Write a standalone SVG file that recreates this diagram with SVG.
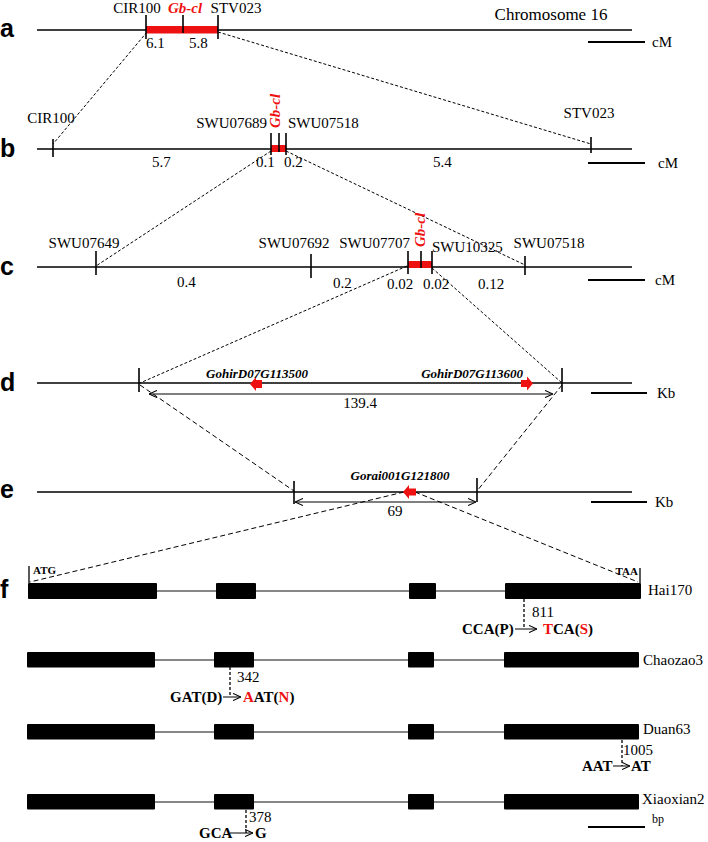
<svg xmlns="http://www.w3.org/2000/svg" width="708" height="842" viewBox="0 0 708 842">
<defs>
<style>
.t{font-family:"Liberation Serif","Times New Roman",serif;font-size:15px;fill:#000}
.big{font-size:17px}
.gb{font-family:"Liberation Serif","Times New Roman",serif;font-size:15px;font-weight:bold;font-style:italic;fill:#ee1111}
.gn{font-family:"Liberation Serif","Times New Roman",serif;font-size:13px;font-weight:bold;font-style:italic;fill:#000}
.pl{font-family:"Liberation Sans",Arial,sans-serif;font-size:25px;font-weight:bold;fill:#000}
.mut{font-family:"Liberation Serif","Times New Roman",serif;font-size:15px;font-weight:bold;fill:#000}
.cod{font-family:"Liberation Serif","Times New Roman",serif;font-size:11px;font-weight:bold;fill:#000}
.sm{font-size:12px}
.r{fill:#ee1111}
.chr{stroke:#000;stroke-width:1.6;fill:none}
.tick{stroke:#000;stroke-width:1.6}
.dash{stroke:#000;stroke-width:1;stroke-dasharray:3 2;fill:none}
.dash2{stroke:#000;stroke-width:1;stroke-dasharray:5 3;fill:none}
.vd{stroke:#000;stroke-width:1.3;stroke-dasharray:3 2}
.scale{stroke:#000;stroke-width:2.2}
.exon{fill:#000}
.intron{stroke:#111;stroke-width:1.2}
.arr{stroke:#000;stroke-width:1;fill:none;marker-end:url(#ah)}
.darr{stroke:#000;stroke-width:1;fill:none;marker-end:url(#ah);marker-start:url(#ah)}
</style>
<marker id="ah" viewBox="0 0 10 10" refX="10" refY="5" markerWidth="8" markerHeight="8" markerUnits="userSpaceOnUse" orient="auto-start-reverse"><path d="M0,0.5 L10,5 L0,9.5" fill="none" stroke="#000" stroke-width="1.3"/></marker>
</defs>
<rect width="708" height="842" fill="#fff"/>

<!-- panel letters -->
<g id="panel-letters">
<text class="pl" x="0" y="37">a</text>
<text class="pl" x="0" y="157">b</text>
<text class="pl" x="0" y="275">c</text>
<text class="pl" x="0" y="391">d</text>
<text class="pl" x="0" y="498">e</text>
<text class="pl" x="0" y="598">f</text>
</g>

<!-- connectors -->
<g id="connectors">
<line class="dash" x1="147" y1="32" x2="53" y2="144"/>
<line class="dash" x1="218" y1="32" x2="591" y2="144"/>
<line class="dash" x1="271" y1="151" x2="96" y2="266"/>
<line class="dash" x1="286" y1="151" x2="525" y2="265"/>
<line class="dash" x1="407" y1="266" x2="140" y2="383"/>
<line class="dash" x1="432" y1="268" x2="562" y2="383"/>
<line class="dash2" x1="140" y1="385" x2="294" y2="491"/>
<line class="dash2" x1="562" y1="385" x2="477" y2="491"/>
<line class="dash2" x1="404" y1="492" x2="30" y2="582"/>
<line class="dash2" x1="415" y1="492" x2="638" y2="582"/>
</g>

<!-- row a -->
<g id="row-a">
<line class="chr" x1="37" y1="30" x2="632" y2="30"/>
<rect x="146" y="26" width="72" height="7.5" class="r"/>
<line class="tick" x1="146" y1="15" x2="146" y2="39"/>
<line class="tick" x1="183" y1="15" x2="183" y2="33"/>
<line class="tick" x1="218" y1="15" x2="218" y2="39"/>
<text class="t" x="137" y="13" text-anchor="middle">CIR100</text>
<text class="gb" x="185" y="13" text-anchor="middle">Gb-cl</text>
<text class="t" x="236" y="13" text-anchor="middle">STV023</text>
<text class="t" x="146" y="48">6.1</text>
<text class="t" x="189" y="48">5.8</text>
<text class="t big" x="551" y="20" text-anchor="middle">Chromosome 16</text>
<line class="scale" x1="588" y1="42" x2="645" y2="42"/>
<text class="t" x="652" y="47">cM</text>
</g>

<!-- row b -->
<g id="row-b">
<line class="chr" x1="37" y1="149" x2="632" y2="149"/>
<rect x="271" y="145" width="15" height="7" class="r"/>
<line class="tick" x1="53" y1="139" x2="53" y2="157"/>
<line class="tick" x1="271" y1="133" x2="271" y2="155"/>
<line class="tick" x1="279" y1="133" x2="279" y2="152"/>
<line class="tick" x1="286" y1="133" x2="286" y2="155"/>
<line class="tick" x1="591" y1="137" x2="591" y2="153"/>
<text class="t" x="51" y="123" text-anchor="middle">CIR100</text>
<text class="t" x="267" y="128" text-anchor="end">SWU07689</text>
<text class="gb" x="280" y="111" text-anchor="middle" transform="rotate(-90 280 111)">Gb-cl</text>
<text class="t" x="288" y="128">SWU07518</text>
<text class="t" x="589" y="118" text-anchor="middle">STV023</text>
<text class="t" x="152" y="167">5.7</text>
<text class="t" x="256" y="167">0.1</text>
<text class="t" x="284" y="167">0.2</text>
<text class="t" x="433" y="167">5.4</text>
<line class="scale" x1="588" y1="163" x2="645" y2="163"/>
<text class="t" x="658" y="168">cM</text>
</g>

<!-- row c -->
<g id="row-c">
<line class="chr" x1="37" y1="267" x2="632" y2="267"/>
<rect x="408" y="261" width="24" height="7" class="r"/>
<line class="tick" x1="96" y1="251" x2="96" y2="275"/>
<line class="tick" x1="311" y1="254" x2="311" y2="278"/>
<line class="tick" x1="408" y1="251" x2="408" y2="274"/>
<line class="tick" x1="421" y1="251" x2="421" y2="268"/>
<line class="tick" x1="432" y1="251" x2="432" y2="274"/>
<line class="tick" x1="525" y1="256" x2="525" y2="275"/>
<text class="t" x="84" y="248" text-anchor="middle">SWU07649</text>
<text class="t" x="294" y="248" text-anchor="middle">SWU07692</text>
<text class="t" x="410" y="248" text-anchor="end">SWU07707</text>
<text class="gb" x="425" y="230" text-anchor="middle" transform="rotate(-90 425 230)">Gb-cl</text>
<text class="t" x="432" y="252">SWU10325</text>
<text class="t" x="549" y="248" text-anchor="middle">SWU07518</text>
<text class="t" x="177" y="287">0.4</text>
<text class="t" x="333" y="288">0.2</text>
<text class="t" x="387" y="289">0.02</text>
<text class="t" x="423" y="289">0.02</text>
<text class="t" x="478" y="289">0.12</text>
<line class="scale" x1="588" y1="280" x2="645" y2="280"/>
<text class="t" x="655" y="285">cM</text>
</g>

<!-- row d -->
<g id="row-d">
<line class="chr" x1="37" y1="383" x2="632" y2="383"/>
<line class="tick" x1="139" y1="368" x2="139" y2="392"/>
<line class="tick" x1="562" y1="368" x2="562" y2="392"/>
<polygon class="r" points="250,384 256,377 256,380 262,380 262,388 256,388 256,391"/>
<polygon class="r" points="533,383.5 527,376.5 527,380 521,380 521,387 527,387 527,390.5"/>
<text class="gn" x="257" y="378" text-anchor="middle">GohirD07G113500</text>
<text class="gn" x="523" y="378" text-anchor="end">GohirD07G113600</text>
<line class="darr" x1="149" y1="394" x2="553" y2="394"/>
<text class="t" x="360" y="408" text-anchor="middle">139.4</text>
<line class="scale" x1="591" y1="393" x2="647" y2="393"/>
<text class="t" x="657" y="398">Kb</text>
</g>

<!-- row e -->
<g id="row-e">
<line class="chr" x1="37" y1="492" x2="632" y2="492"/>
<line class="tick" x1="294" y1="481" x2="294" y2="504"/>
<line class="tick" x1="477" y1="478" x2="477" y2="502"/>
<polygon class="r" points="403,492 409,485 409,488.5 416,488.5 416,495.5 409,495.5 409,499"/>
<text class="gn" x="400" y="480" text-anchor="middle">Gorai001G121800</text>
<line class="darr" x1="295" y1="502" x2="476" y2="502"/>
<text class="t" x="395" y="516" text-anchor="middle">69</text>
<line class="scale" x1="591" y1="502" x2="647" y2="502"/>
<text class="t" x="655" y="507">Kb</text>
</g>

<!-- row f: Hai170 -->
<g id="gene-Hai170">
<line class="intron" x1="157" y1="591" x2="505" y2="591"/>
<rect class="exon" x="28" y="583" width="129" height="16" rx="1"/>
<rect class="exon" x="216" y="583" width="40" height="16" rx="1"/>
<rect class="exon" x="409" y="583" width="27" height="16" rx="1"/>
<rect class="exon" x="505" y="583" width="136" height="16" rx="1"/>
<line class="tick" x1="29" y1="566" x2="29" y2="583" style="stroke-width:1.3"/>
<line class="tick" x1="640" y1="568" x2="640" y2="583" style="stroke-width:1.3"/>
<text class="cod" x="33" y="574">ATG</text>
<text class="cod" x="638" y="575" text-anchor="end">TAA</text>
<text class="t" x="648" y="595">Hai170</text>
<line class="vd" x1="524" y1="599" x2="524" y2="628"/>
<text class="t" x="532" y="617">811</text>
<text class="mut" x="462" y="634">CCA(P)</text>
<line class="arr" x1="515" y1="629" x2="537" y2="629"/>
<text class="mut" x="543" y="634"><tspan class="r">T</tspan>CA(<tspan class="r">S</tspan>)</text>
</g>

<!-- Chaozao3 -->
<g id="gene-Chaozao3">
<line class="intron" x1="155" y1="660" x2="504" y2="660"/>
<rect class="exon" x="27" y="652" width="128" height="15.5" rx="1"/>
<rect class="exon" x="214" y="652" width="40" height="15.5" rx="1"/>
<rect class="exon" x="408" y="652" width="26" height="15.5" rx="1"/>
<rect class="exon" x="504" y="652" width="135" height="15.5" rx="1"/>
<text class="t" x="643" y="665">Chaozao3</text>
<line class="vd" x1="230" y1="667" x2="230" y2="697"/>
<text class="t" x="237" y="682">342</text>
<text class="mut" x="170" y="702">GAT(D)</text>
<line class="arr" x1="223" y1="697" x2="241" y2="697"/>
<text class="mut" x="243" y="702"><tspan class="r">A</tspan>AT(<tspan class="r">N</tspan>)</text>
</g>

<!-- Duan63 -->
<g id="gene-Duan63">
<line class="intron" x1="155" y1="732" x2="504" y2="732"/>
<rect class="exon" x="27" y="724" width="128" height="15.5" rx="1"/>
<rect class="exon" x="214" y="724" width="40" height="15.5" rx="1"/>
<rect class="exon" x="408" y="724" width="26" height="15.5" rx="1"/>
<rect class="exon" x="504" y="724" width="135" height="15.5" rx="1"/>
<text class="t" x="643" y="734">Duan63</text>
<line class="vd" x1="622" y1="740" x2="622" y2="766"/>
<text class="t" x="623" y="755">1005</text>
<text class="mut" x="582" y="771">AAT</text>
<line class="arr" x1="613" y1="766" x2="630" y2="766"/>
<text class="mut" x="631" y="771">AT</text>
</g>

<!-- Xiaoxian2 -->
<g id="gene-Xiaoxian2">
<line class="intron" x1="155" y1="802" x2="504" y2="802"/>
<rect class="exon" x="27" y="794" width="128" height="15.5" rx="1"/>
<rect class="exon" x="214" y="794" width="40" height="15.5" rx="1"/>
<rect class="exon" x="408" y="794" width="26" height="15.5" rx="1"/>
<rect class="exon" x="504" y="794" width="135" height="15.5" rx="1"/>
<text class="t" x="642" y="804">Xiaoxian2</text>
<line class="vd" x1="246" y1="810" x2="246" y2="834"/>
<text class="t" x="249" y="822">378</text>
<text class="mut" x="199" y="838">GCA</text>
<line class="arr" x1="230" y1="833" x2="253" y2="833"/>
<text class="mut" x="255" y="838">G</text>
</g>

<g id="scale-bp">
<line class="scale" x1="588" y1="827" x2="645" y2="827"/>
<text class="t sm" x="652" y="823">bp</text>
</g>
</svg>
